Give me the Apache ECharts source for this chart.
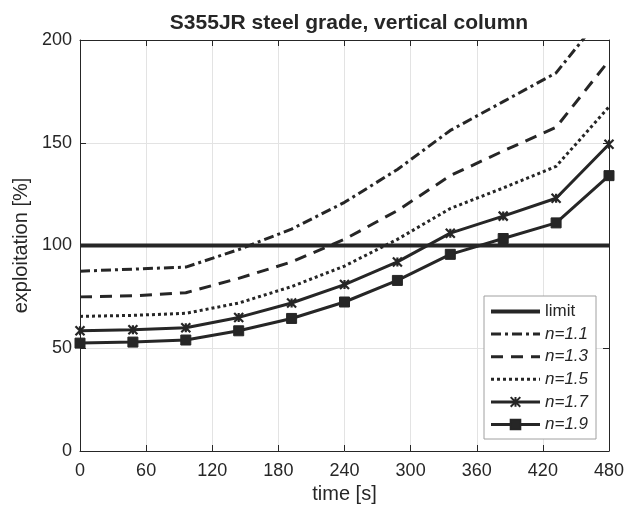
<!DOCTYPE html>
<html>
<head>
<meta charset="utf-8">
<script src="https://cdn.jsdelivr.net/npm/echarts@6/dist/echarts.min.js"></script>
<style>
  html, body { margin: 0; padding: 0; background: #fff; }
  #chart { width: 637px; height: 510px; }
</style>
</head>
<body>
<div id="chart"></div>
<script>
// Time steps of the fire exposure [s]
const times = [0, 48, 96, 144, 192, 240, 288, 336, 384, 432, 480];
// Exploitation of the column [%] for each exponent n
const n11 = [87.5, 88.5, 89.5, 98, 108, 121, 137, 156, 170, 184, 216];
const n13 = [75, 75.5, 77, 84, 92, 103, 117, 134, 146, 157.5, 190];
const n15 = [65.5, 66, 67, 72, 80, 90, 103, 118, 128, 138.5, 167.5];
const n17 = [58.5, 59, 60, 65, 72, 81, 92, 106, 114.3, 123, 149.3];
const n19 = [52.5, 53, 54, 58.5, 64.5, 72.5, 83, 95.7, 103.4, 111, 134];
// Load-bearing limit
const limitTimes = [0, 480];
const limitValues = [100, 100];

const ink = '#262626';
const font = 'Liberation Sans, Arial, Helvetica, sans-serif';
const pairs = (xs, ys) => xs.map((x, i) => [x, ys[i]]);

// Asterisk-like marker
const starPath = 'path://M0,0L10,10M10,0L0,10M5,0L5,10';

const chart = echarts.init(document.getElementById('chart'), null, { renderer: 'canvas' });

const xBase = {
  type: 'value', min: 0, max: 480, interval: 60,
  axisLine: { show: true, onZero: false, lineStyle: { color: ink, width: 1 } },
  axisTick: { show: true, inside: true, length: 6, lineStyle: { color: ink } },
};
const yBase = {
  type: 'value', min: 0, max: 200, interval: 50,
  axisLine: { show: true, onZero: false, lineStyle: { color: ink, width: 1 } },
  axisTick: { show: true, inside: true, length: 6, lineStyle: { color: ink } },
};

function curve(name, values, lineType, symbol, symbolSize) {
  return {
    name, type: 'line', data: pairs(times, values),
    showSymbol: symbol !== 'none',
    symbol, symbolSize,
    clip: true,
    lineStyle: { color: ink, width: 3, type: lineType, cap: 'butt' },
    itemStyle: { color: ink, borderColor: ink, borderWidth: symbol === 'rect' ? 1 : 2.2 },
    emphasis: { disabled: true },
    z: 3,
  };
}

// Legend entries: italic labels for the exponents, no marker for plain lines
const hidden = { color: 'transparent', borderColor: 'transparent', borderWidth: 0 };
const legendItems = [
  { name: 'limit', itemStyle: hidden, lineStyle: { width: 4 } },
  { name: 'n=1.1', itemStyle: hidden, textStyle: { fontStyle: 'italic' } },
  { name: 'n=1.3', itemStyle: hidden, textStyle: { fontStyle: 'italic' } },
  { name: 'n=1.5', itemStyle: hidden, textStyle: { fontStyle: 'italic' } },
  { name: 'n=1.7', textStyle: { fontStyle: 'italic' } },
  { name: 'n=1.9', textStyle: { fontStyle: 'italic' } },
];

chart.setOption({
  animation: false,
  backgroundColor: '#fff',
  title: {
    text: 'S355JR steel grade, vertical column',
    left: 344, top: 8, textAlign: 'center',
    textStyle: { fontFamily: font, fontSize: 21, fontWeight: 'bold', color: ink },
  },
  grid: { left: 80, right: 28, top: 40, bottom: 59, containLabel: false },
  legend: {
    orient: 'vertical',
    left: 484, top: 296,
    backgroundColor: '#fff',
    borderColor: '#a0a0a0', borderWidth: 1,
    padding: [7, 8, 6, 5],
    itemWidth: 49, itemHeight: 12, itemGap: 5.6,
    lineStyle: { width: 3 },
    textStyle: { fontFamily: font, fontSize: 17, color: ink },
    data: legendItems,
  },
  xAxis: [
    Object.assign({}, xBase, {
      position: 'bottom',
      name: 'time [s]', nameLocation: 'middle', nameGap: 32,
      nameTextStyle: { fontFamily: font, fontSize: 20, color: ink },
      axisLabel: { show: true, margin: 11, fontFamily: font, fontSize: 18, color: ink },
      splitLine: { show: true, lineStyle: { color: '#e3e3e3', width: 1 } },
    }),
    Object.assign({}, xBase, {
      position: 'top',
      axisLabel: { show: false },
      splitLine: { show: false },
    }),
  ],
  yAxis: [
    Object.assign({}, yBase, {
      position: 'left',
      name: 'exploitation [%]', nameLocation: 'middle', nameGap: 41,
      nameTextStyle: { fontFamily: font, fontSize: 20, color: ink },
      axisLabel: { show: true, margin: 8, fontFamily: font, fontSize: 18, color: ink },
      splitLine: { show: true, lineStyle: { color: '#e3e3e3', width: 1 } },
    }),
    Object.assign({}, yBase, {
      position: 'right',
      axisLabel: { show: false },
      splitLine: { show: false },
    }),
  ],
  series: [
    {
      name: 'limit', type: 'line', data: pairs(limitTimes, limitValues),
      showSymbol: false, symbol: 'none',
      lineStyle: { color: ink, width: 4, type: 'solid' },
      itemStyle: { color: ink },
      emphasis: { disabled: true },
      z: 4,
    },
    curve('n=1.1', n11, [10, 4, 3, 4], 'none', 0),
    curve('n=1.3', n13, [12, 8], 'none', 0),
    curve('n=1.5', n15, [3, 3], 'none', 0),
    curve('n=1.7', n17, 'solid', starPath, 9),
    curve('n=1.9', n19, 'solid', 'rect', 10),
  ],
});
</script>
</body>
</html>
